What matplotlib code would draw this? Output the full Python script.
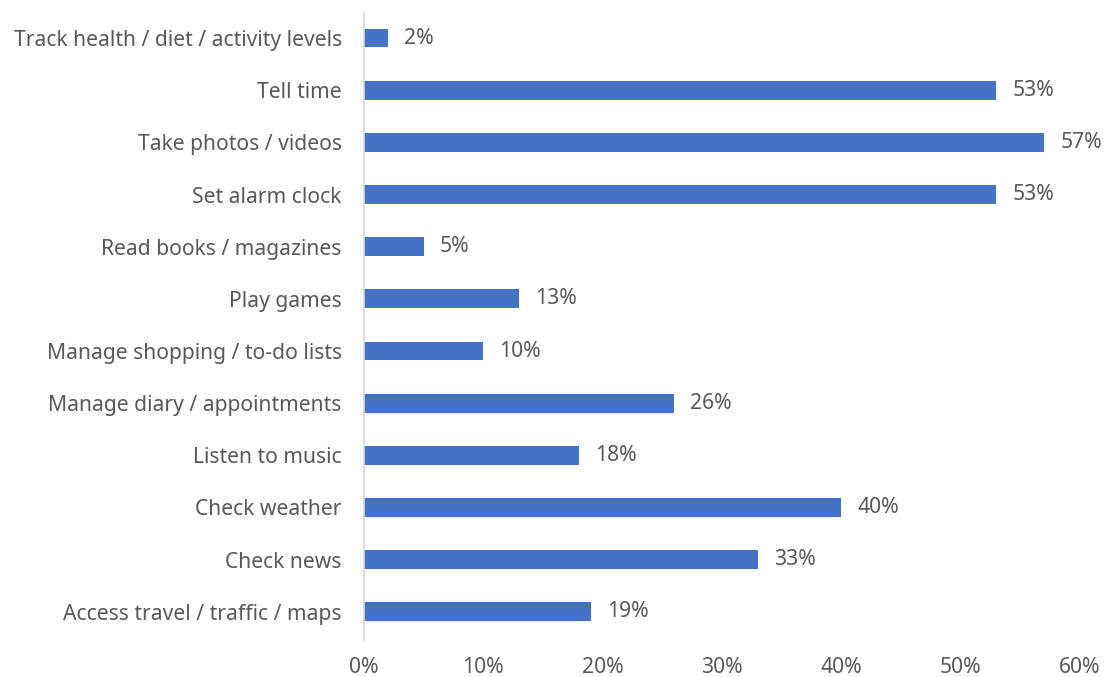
import matplotlib.pyplot as plt
from matplotlib.ticker import FuncFormatter, MultipleLocator

plt.rcParams['font.family'] = ['Noto Sans', 'DejaVu Sans']

activities = ['Track health / diet / activity levels', 'Tell time', 'Take photos / videos',
              'Set alarm clock', 'Read books / magazines', 'Play games',
              'Manage shopping / to-do lists', 'Manage diary / appointments',
              'Listen to music', 'Check weather', 'Check news',
              'Access travel / traffic / maps']
share = [2, 53, 57, 53, 5, 13, 10, 26, 18, 40, 33, 19]

text_col = '#595959'
bar_col = '#4472C4'
fsize = 15.2

fig = plt.figure(figsize=(11.05, 6.77), dpi=100)
ax = fig.add_axes([0.3294, 0.0547, 0.648, 0.9276])

ypos = list(range(len(activities)))
ax.barh(ypos, share, height=0.36, color=bar_col)
for y, v in zip(ypos, share):
    ax.annotate(f'{v}%', (v, y), xytext=(11.5, 0), textcoords='offset points',
                va='center', ha='left', fontsize=fsize, color=text_col)

ax.set_yticks(ypos)
ax.set_yticklabels(activities)
ax.set_ylim(len(activities) - 0.46, -0.5)
ax.set_xlim(0, 60)
ax.xaxis.set_major_locator(MultipleLocator(10))
ax.xaxis.set_major_formatter(FuncFormatter(lambda x, _: f'{x:.0f}%'))

ax.tick_params(axis='both', length=0, labelsize=fsize, labelcolor=text_col)
ax.tick_params(axis='y', pad=16)
ax.tick_params(axis='x', pad=12)
for side in ['top', 'right', 'bottom']:
    ax.spines[side].set_visible(False)
ax.spines['left'].set_color('#D9D9D9')
ax.spines['left'].set_linewidth(1.2)

fig.savefig('out.png', dpi=100)
